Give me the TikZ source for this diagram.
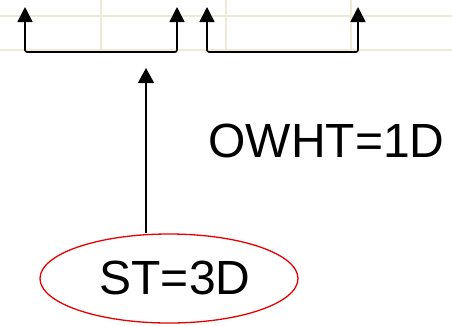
\documentclass[tikz,border=0pt]{standalone}
\usepackage{fontspec}
\setmainfont{Liberation Sans}
\usetikzlibrary{arrows.meta}
\usetikzlibrary{shapes.geometric}

\definecolor{gridcream}{RGB}{238,234,214}
\definecolor{ovalred}{RGB}{230,0,0}

\begin{document}
\begin{tikzpicture}[
    x=1pt, y=-1pt,
    bracket/.style={line width=1.6pt, rounded corners=2pt, {Triangle[width=15pt,length=15pt]}-{Triangle[width=15pt,length=15pt]}},
    pointer/.style={line width=1.6pt, -{Triangle[width=16pt,length=15pt]}},
    label/.style={font=\fontsize{48}{56}\selectfont, inner sep=0pt}
]
    \useasboundingbox (0,0) rectangle (452,325);

    % Grid
    \draw[gridcream, line width=1.5pt] (0,16) -- (452,16) (0,50) -- (452,50);
    \foreach \x in {101,226,351}
        \draw[gridcream, line width=1.5pt] (\x,0) -- (\x,50);

    % Tips
    \coordinate (l1) at (25,7);
    \coordinate (r1) at (177,7);
    \coordinate (l2) at (207,7);
    \coordinate (r2) at (358,7);
    \coordinate (base) at (0,52);
    \coordinate (hit) at (146,68);

    % Nodes
    \node[ellipse, draw=ovalred, line width=1.3pt, minimum width=258pt, minimum height=89pt, inner sep=0pt] (st) at (169,278.5) {};
    \node[label, anchor=base] (sttext) at (175,294) {ST=3D};
    \node[label, anchor=base] (owht) at (326.5,157) {OWHT=1D};

    % Edges
    \draw[bracket] (l1) -- (l1 |- base) -- (r1 |- base) -- (r1);
    \draw[bracket] (l2) -- (l2 |- base) -- (r2 |- base) -- (r2);
    \draw[pointer] (st.north -| hit) -- (hit);
\end{tikzpicture}
\end{document}
